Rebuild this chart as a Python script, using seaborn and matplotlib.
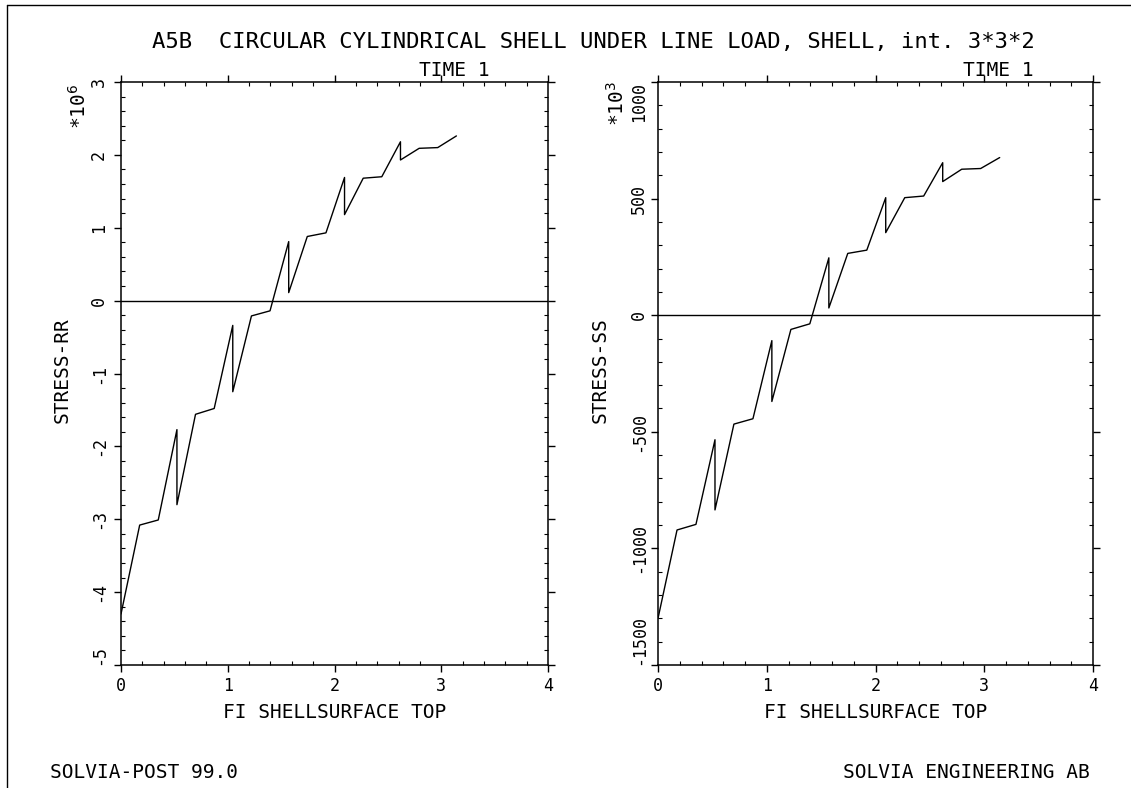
import matplotlib
matplotlib.use("Agg")
import matplotlib.pyplot as plt
import seaborn as sns
import pandas as pd
from matplotlib.lines import Line2D
from matplotlib.ticker import MultipleLocator

# ---- data ----
fi = [0.0, 0.175, 0.349, 0.524, 0.524, 0.698, 0.873, 1.047, 1.047, 1.222,
      1.396, 1.571, 1.571, 1.745, 1.920, 2.094, 2.094, 2.269, 2.443, 2.618,
      2.618, 2.793, 2.967, 3.142]
stress_rr = [-4.30, -3.08, -3.01, -1.77, -2.80, -1.56, -1.48, -0.34, -1.25, -0.21,
             -0.14, 0.81, 0.11, 0.88, 0.93, 1.69, 1.18, 1.68, 1.70, 2.18,
             1.93, 2.09, 2.10, 2.26]          # *10^6
stress_ss = [-1300, -921, -897, -534, -835, -467, -444, -109, -370, -61,
             -37, 246, 31, 265, 279, 504, 354, 504, 511, 654,
             573, 626, 629, 676]              # *10^3

title = "A5B  CIRCULAR CYLINDRICAL SHELL UNDER LINE LOAD, SHELL, int. 3*3*2"
xlabel = "FI SHELLSURFACE TOP"
ylabels = ["STRESS-RR", "STRESS-SS"]
scales = ["*10$^{6}$", "*10$^{3}$"]
time_label = "TIME 1"
footer_left = "SOLVIA-POST 99.0"
footer_right = "SOLVIA ENGINEERING AB"

df = pd.DataFrame({"fi": fi, "rr": stress_rr, "ss": stress_ss})

sns.set_theme(style="ticks")
plt.rcParams["font.family"] = ["DejaVu Sans Mono", "DejaVu Sans"]
plt.rcParams["axes.unicode_minus"] = False
for k in ["text.color", "axes.labelcolor", "xtick.color", "ytick.color",
          "axes.edgecolor"]:
    plt.rcParams[k] = "black"

W, H = 1131, 788
fig = plt.figure(figsize=(W / 100, H / 100), dpi=100)
fig.patch.set_facecolor("white")

def fx(px):
    return px / W

def fy(py):
    return 1 - py / H

top, bottom = 82, 665
ax1 = fig.add_axes([fx(121), fy(bottom), fx(548 - 121), (bottom - top) / H])
ax2 = fig.add_axes([fx(658), fy(bottom), fx(1093 - 658), (bottom - top) / H])

sns.lineplot(data=df, x="fi", y="rr", ax=ax1, sort=False, estimator=None,
             color="black", lw=1.0)
sns.lineplot(data=df, x="fi", y="ss", ax=ax2, sort=False, estimator=None,
             color="black", lw=1.0)

TICK_FS = 12
LAB_FS = 14

cfg = [
    (ax1, (-5, 3), 1, 0.2, ylabels[0], 62, 121, 548, 4.5),
    (ax2, (-1500, 1000), 500, 100, ylabels[1], 600, 658, 1093, 2.0),
]
for ax, ylim, ymaj, ymin, ylab, ylx, x0, x1, ypad in cfg:
    ax.set_facecolor("white")
    ax.set_xlim(0, 4)
    ax.set_ylim(*ylim)
    ax.xaxis.set_major_locator(MultipleLocator(1))
    ax.xaxis.set_minor_locator(MultipleLocator(0.2))
    ax.yaxis.set_major_locator(MultipleLocator(ymaj))
    ax.yaxis.set_minor_locator(MultipleLocator(ymin))
    ax.axhline(0, color="black", lw=1.0)
    for s in ax.spines.values():
        s.set_visible(True)
        s.set_color("black")
        s.set_linewidth(1.1)
    ax.tick_params(which="major", direction="out", length=5, width=1.0,
                   top=True, right=True, labelsize=TICK_FS, colors="black")
    ax.tick_params(which="minor", direction="in", length=3, width=0.8,
                   top=True, right=True)
    ax.tick_params(axis="x", which="major", pad=3.5)
    ax.tick_params(axis="y", which="major", pad=ypad, labelrotation=90)
    ax.set_xlabel(xlabel, fontsize=LAB_FS)
    ax.xaxis.set_label_coords(0.5, -(712 - bottom) / (bottom - top))
    ax.xaxis.label.set_va("center")
    ax.set_ylabel(ylab, fontsize=LAB_FS)
    ax.yaxis.set_label_coords(-(x0 - ylx) / (x1 - x0), (bottom - 370) / (bottom - top))
    ax.yaxis.label.set_va("center")

fig.canvas.draw()
for ax in (ax1, ax2):
    lo, hi = ax.get_ylim()
    for tick in ax.yaxis.get_major_ticks():
        loc = tick.get_loc()
        lab = tick.label1
        lab.set_va("center")
        if abs(loc - lo) < 1e-9:
            lab.set_va("bottom")
        elif abs(loc - hi) < 1e-9 and ax is ax2:
            lab.set_va("top")

# scale factors
fig.text(fx(79), fy(106), scales[0], rotation=90, ha="center", va="center", fontsize=LAB_FS)
fig.text(fx(617), fy(104), scales[1], rotation=90, ha="center", va="center", fontsize=LAB_FS)

# title and TIME labels
fig.text(fx(593), fy(42), title, ha="center", va="center", fontsize=16)
fig.text(fx(454), fy(70), time_label, ha="center", va="center", fontsize=LAB_FS)
fig.text(fx(998), fy(70), time_label, ha="center", va="center", fontsize=LAB_FS)

# footers
fig.text(fx(50), fy(772), footer_left, ha="left", va="center", fontsize=LAB_FS)
fig.text(fx(1090), fy(772), footer_right, ha="right", va="center", fontsize=LAB_FS)

# page border (left and top)
fig.add_artist(Line2D([fx(7), fx(7)], [0, fy(5)], color="black", lw=1.0))
fig.add_artist(Line2D([fx(7), 1], [fy(5), fy(5)], color="black", lw=1.0))

fig.savefig("out.png", dpi=100, facecolor="white")
